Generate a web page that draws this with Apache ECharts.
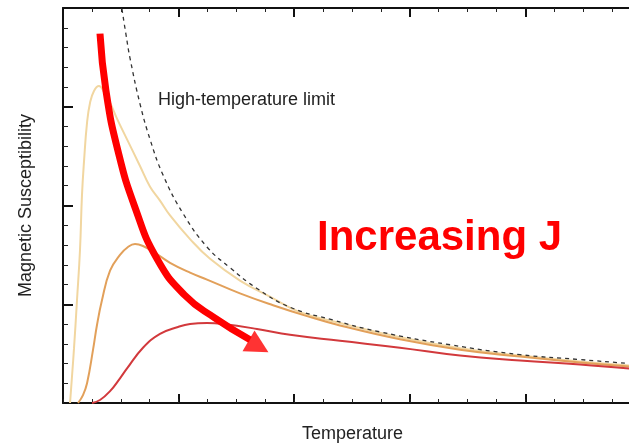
<!DOCTYPE html>
<html>
<head>
<meta charset="utf-8">
<script src="https://cdn.jsdelivr.net/npm/echarts@6/dist/echarts.min.js"></script>
<style>
  html, body { margin: 0; padding: 0; background: #fff; }
  #chart { width: 629px; height: 444px; }
</style>
</head>
<body>
<div id="chart"></div>
<script>
// curves, [temperature, susceptibility]
var weakJ = [[0.061,0],[0.095,0.55],[0.121,1.04],[0.147,1.55],[0.164,2.10],[0.182,2.45],[0.208,2.84],[0.234,3.04],[0.268,3.16],[0.311,3.21],[0.355,3.15],[0.407,3.04],[0.467,2.88],[0.554,2.67],[0.666,2.40],[0.753,2.19],[0.839,2.05],[0.926,1.90],[1.099,1.66],[1.272,1.46],[1.531,1.24],[1.817,1.06],[2.050,0.92],[2.396,0.81],[2.915,0.665],[3.434,0.555],[3.953,0.48],[4.472,0.42],[4.896,0.38],[5.0,0.37]];
var midJ = [[0.130,0],[0.173,0.08],[0.208,0.20],[0.260,0.54],[0.294,0.79],[0.337,1.04],[0.407,1.34],[0.493,1.50],[0.562,1.58],[0.623,1.61],[0.692,1.59],[0.796,1.52],[0.926,1.42],[1.099,1.32],[1.246,1.25],[1.531,1.11],[1.817,0.99],[2.111,0.88],[2.396,0.785],[2.915,0.645],[3.434,0.54],[3.953,0.47],[4.472,0.41],[4.896,0.37],[5.0,0.36]];
var strongJ = [[0.251,0],[0.320,0.03],[0.407,0.12],[0.493,0.25],[0.554,0.35],[0.692,0.56],[0.839,0.70],[0.995,0.77],[1.099,0.80],[1.246,0.81],[1.384,0.80],[1.678,0.75],[1.964,0.69],[2.396,0.63],[2.915,0.56],[3.434,0.48],[3.953,0.43],[4.472,0.39],[4.896,0.35],[5.0,0.345]];
var highTLimit = [[0.510,3.99],[0.545,3.73],[0.580,3.49],[0.666,3.03],[0.753,2.67],[0.865,2.31],[1.038,1.92],[1.246,1.58],[1.445,1.37],[1.678,1.16],[1.964,0.97],[2.336,0.84],[2.742,0.72],[3.348,0.59],[3.953,0.49],[4.472,0.44],[4.896,0.40],[5.0,0.39]];
// annotation arrow
var arrowPath = [[0.320,3.74],[0.372,3.16],[0.476,2.55],[0.623,1.98],[0.813,1.46],[1.055,1.09],[1.315,0.86],[1.618,0.64]];
var arrowHead = [[1.691,0.571]];

var font = '"Liberation Sans", Arial, Helvetica, sans-serif';
var plotRect = { left: 63, top: 8, width: 578, height: 395, containLabel: false, outerBoundsMode: 'none' };

var chartDom = document.getElementById('chart');
var myChart = echarts.init(chartDom);

function curve(data, color, width, z, smooth) {
    return {
        type: 'line',
        data: data,
        showSymbol: false,
        smooth: smooth || 0.45,
        lineStyle: { color: color, width: width },
        z: z,
        silent: true
    };
}

var option = {
    animation: false,
    grid: [plotRect, Object.assign({}, plotRect)],
    xAxis: [
        {
            gridIndex: 0,
            type: 'value',
            position: 'bottom',
            min: 0,
            max: 5,
            interval: 1,
            axisLine: { show: true, onZero: false, lineStyle: { color: '#111', width: 2 } },
            axisTick: { show: true, inside: true, length: 9, lineStyle: { color: '#111', width: 2 } },
            axisLabel: { show: false },
            splitLine: { show: false }
        },
        {
            gridIndex: 0,
            type: 'value',
            position: 'top',
            min: 0,
            max: 5,
            interval: 1,
            axisLine: { show: true, onZero: false, lineStyle: { color: '#111', width: 2 } },
            axisTick: { show: true, inside: true, length: 9, lineStyle: { color: '#111', width: 2 } },
            minorTick: { show: true, splitNumber: 4, length: 4, lineStyle: { color: '#222', width: 1 } },
            axisLabel: { show: false },
            splitLine: { show: false }
        },
        {
            // small ticks along the bottom edge (a top axis moved down onto it)
            gridIndex: 1,
            type: 'value',
            position: 'top',
            offset: -395,
            min: 0,
            max: 5,
            interval: 0.25,
            axisLine: { show: false, onZero: false },
            axisTick: { show: true, inside: false, length: 4, lineStyle: { color: '#222', width: 1 } },
            axisLabel: { show: false },
            splitLine: { show: false }
        }
    ],
    yAxis: [
        {
            gridIndex: 0,
            type: 'value',
            min: 0,
            max: 4,
            interval: 1,
            name: 'Magnetic Susceptibility',
            nameLocation: 'middle',
            nameGap: 28,
            nameTextStyle: { fontFamily: font, fontSize: 18, color: '#222' },
            axisLine: { show: true, lineStyle: { color: '#111', width: 2 } },
            axisTick: { show: true, inside: true, length: 10, lineStyle: { color: '#111', width: 2 } },
            minorTick: { show: true, splitNumber: 5, length: 5, lineStyle: { color: '#222', width: 1 } },
            axisLabel: { show: false },
            splitLine: { show: false }
        },
        {
            gridIndex: 1,
            type: 'value',
            min: 0,
            max: 4,
            show: false
        }
    ],
    series: [
        {
            type: 'line',
            data: highTLimit,
            showSymbol: false,
            smooth: 0.45,
            lineStyle: { color: '#333', width: 1.3, type: [4, 4] },
            z: 5,
            silent: true
        },
        curve(weakJ, '#f1d6a0', 2, 2),
        curve(midJ, '#e2a05a', 2, 3),
        curve(strongJ, '#d2393c', 2, 4),
        curve(arrowPath, '#ff0000', 7, 10, 0.5),
        {
            type: 'scatter',
            data: arrowHead,
            symbol: 'triangle',
            symbolSize: [24, 23],
            symbolRotate: -120,
            itemStyle: { color: '#ff0000' },
            z: 11,
            silent: true
        }
    ],
    graphic: [
        {
            type: 'text',
            left: 302,
            top: 425,
            style: { text: 'Temperature', font: '18px ' + font, fill: '#222' }
        },
        {
            type: 'text',
            left: 158,
            top: 91,
            style: { text: 'High-temperature limit', font: '18px ' + font, fill: '#222' }
        },
        {
            type: 'text',
            left: 317,
            top: 217,
            style: { text: 'Increasing J', font: 'bold 42px ' + font, fill: '#ff0000' }
        }
    ]
};

option && myChart.setOption(option);
</script>
</body>
</html>
